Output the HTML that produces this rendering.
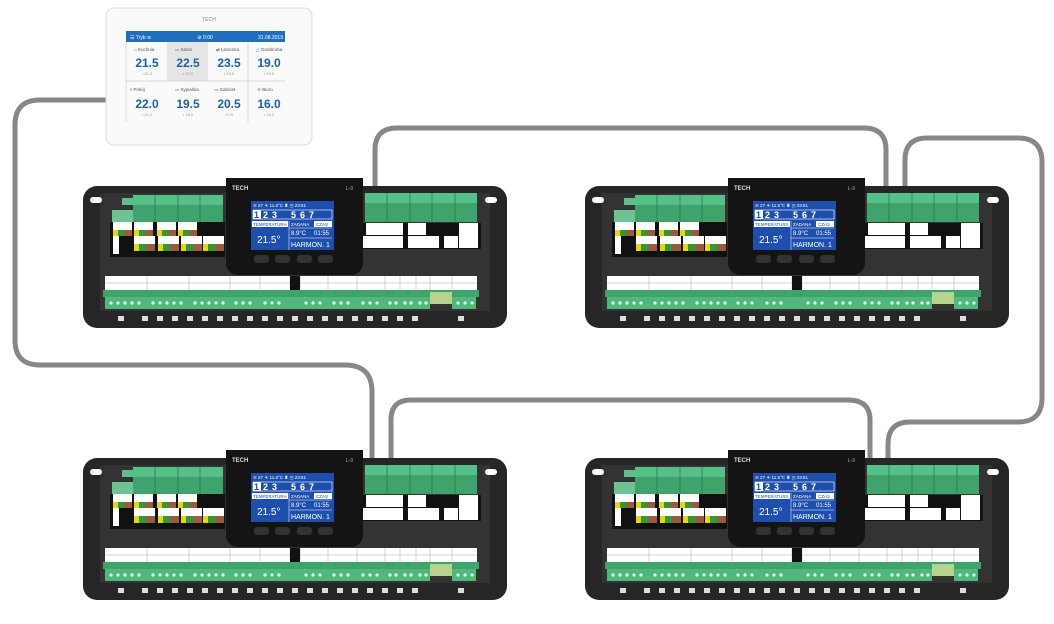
<!DOCTYPE html>
<html><head><meta charset="utf-8"><style>
html,body{margin:0;padding:0;background:#fff;}
svg{display:block;font-family:"Liberation Sans",sans-serif;}
</style></head><body>
<svg width="1054" height="624" viewBox="0 0 1054 624" xmlns="http://www.w3.org/2000/svg">
<defs>
<g id="cs">
<rect x="3" y="11" width="424" height="142" rx="14" fill="#262626"/>
<rect x="20" y="18" width="390" height="118" fill="#333"/>
<rect x="10" y="22" width="12" height="6" rx="3" fill="#fff"/>
<rect x="405" y="22" width="12" height="6" rx="3" fill="#fff"/>
<rect x="42" y="23" width="12" height="7" fill="#5fbf86"/>
<rect x="32" y="35" width="22" height="12" fill="#6cc494"/>
<rect x="53" y="20" width="90" height="10" fill="#55c088"/>
<rect x="53" y="30" width="90" height="17" fill="#3ea46c"/>
<g stroke="#2b7a50" stroke-width="0.8"><line x1="75" y1="20" x2="75" y2="47"/><line x1="98" y1="20" x2="98" y2="47"/><line x1="120" y1="20" x2="120" y2="47"/></g>
<rect x="30" y="47" width="115" height="35" fill="#111"/>
<g fill="#fff"><rect x="33" y="47" width="19" height="8"/><rect x="54" y="47" width="19" height="8"/><rect x="77" y="47" width="19" height="8"/><rect x="98" y="47" width="19" height="8"/>
<rect x="54" y="61" width="21" height="8"/><rect x="78" y="61" width="21" height="8"/><rect x="101" y="61" width="21" height="8"/><rect x="123" y="61" width="21" height="8"/>
<rect x="33" y="57" width="6" height="22"/></g>
<g><rect x="33" y="55" width="5" height="6" fill="#e8d800"/><rect x="38" y="55" width="6" height="6" fill="#2f9a3c"/><rect x="44" y="55" width="8" height="6" fill="#9a5a3c"/>
<rect x="54" y="55" width="5" height="6" fill="#e8d800"/><rect x="59" y="55" width="6" height="6" fill="#2f9a3c"/><rect x="65" y="55" width="8" height="6" fill="#9a5a3c"/>
<rect x="77" y="55" width="5" height="6" fill="#e8d800"/><rect x="82" y="55" width="6" height="6" fill="#2f9a3c"/><rect x="88" y="55" width="8" height="6" fill="#9a5a3c"/>
<rect x="98" y="55" width="5" height="6" fill="#e8d800"/><rect x="103" y="55" width="6" height="6" fill="#2f9a3c"/><rect x="109" y="55" width="8" height="6" fill="#9a5a3c"/>
<rect x="54" y="69" width="5" height="7" fill="#e8d800"/><rect x="59" y="69" width="7" height="7" fill="#2f9a3c"/><rect x="66" y="69" width="9" height="7" fill="#9a5a3c"/>
<rect x="78" y="69" width="5" height="7" fill="#e8d800"/><rect x="83" y="69" width="7" height="7" fill="#2f9a3c"/><rect x="90" y="69" width="9" height="7" fill="#9a5a3c"/>
<rect x="101" y="69" width="5" height="7" fill="#e8d800"/><rect x="106" y="69" width="7" height="7" fill="#2f9a3c"/><rect x="113" y="69" width="9" height="7" fill="#9a5a3c"/>
<rect x="123" y="69" width="5" height="7" fill="#e8d800"/><rect x="128" y="69" width="7" height="7" fill="#2f9a3c"/><rect x="135" y="69" width="9" height="7" fill="#9a5a3c"/></g>
<rect x="285" y="18" width="112" height="10" fill="#55c088"/>
<rect x="285" y="28" width="112" height="19" fill="#3ea46c"/>
<g stroke="#2b7a50" stroke-width="0.8"><line x1="307" y1="18" x2="307" y2="47"/><line x1="330" y1="18" x2="330" y2="47"/><line x1="352" y1="18" x2="352" y2="47"/><line x1="375" y1="18" x2="375" y2="47"/></g>
<rect x="283" y="48" width="118" height="26" fill="#111"/>
<g fill="#fff"><rect x="286" y="48" width="37" height="12"/><rect x="328" y="48" width="18" height="12"/><rect x="379" y="48" width="19" height="25"/>
<rect x="280" y="61" width="43" height="12"/><rect x="328" y="61" width="31" height="12"/><rect x="364" y="61" width="14" height="12"/></g>
<rect x="146" y="3" width="137" height="97" rx="12" fill="#141414"/>
<rect x="146" y="3" width="137" height="20" fill="#141414"/>
<rect x="171" y="26" width="83" height="49" fill="#1f4fae"/>
<rect x="173" y="35" width="8" height="9" fill="#fff"/>
<rect x="173" y="35" width="79" height="9" fill="none" stroke="#fff" stroke-width="0.6"/>
<rect x="172" y="46" width="36" height="6" fill="#fff"/><rect x="234" y="46" width="18" height="6" fill="#fff"/>
<line x1="209" y1="53" x2="252" y2="53" stroke="#fff" stroke-width="0.5"/><line x1="209" y1="63" x2="252" y2="63" stroke="#fff" stroke-width="0.5"/><line x1="209" y1="46" x2="209" y2="75" stroke="#fff" stroke-width="0.5"/>
<g fill="#333"><rect x="174" y="80" width="15" height="8" rx="3"/><rect x="195" y="80" width="15" height="8" rx="3"/><rect x="217" y="80" width="15" height="8" rx="3"/><rect x="238" y="80" width="15" height="8" rx="3"/></g>
<rect x="25" y="101" width="372" height="14" fill="#fff"/>
<g stroke="#aaa" stroke-width="0.5"><line x1="67" y1="101" x2="67" y2="115"/><line x1="109" y1="101" x2="109" y2="115"/><line x1="150" y1="101" x2="150" y2="115"/><line x1="180" y1="101" x2="180" y2="115"/><line x1="210" y1="101" x2="210" y2="115"/><line x1="220" y1="101" x2="220" y2="115"/><line x1="248" y1="101" x2="248" y2="115"/><line x1="277" y1="101" x2="277" y2="115"/><line x1="305" y1="101" x2="305" y2="115"/><line x1="320" y1="101" x2="320" y2="115"/><line x1="336" y1="101" x2="336" y2="115"/><line x1="350" y1="101" x2="350" y2="115"/><line x1="372" y1="101" x2="372" y2="115"/><line x1="25" y1="108" x2="397" y2="108"/></g>
<rect x="210" y="101" width="10" height="22" fill="#111"/>
<rect x="23" y="115" width="376" height="7" fill="#3ea46c"/>
<rect x="25" y="122" width="325" height="12" fill="#4fb87c"/>
<rect x="350" y="117" width="22" height="12" fill="#b9d38f"/>
<rect x="372" y="122" width="24" height="12" fill="#4fb87c"/>
<g fill="#e8f5ec"><circle cx="31" cy="128" r="1.6"/><circle cx="38" cy="128" r="1.6"/><circle cx="45" cy="128" r="1.6"/><circle cx="52" cy="128" r="1.6"/><circle cx="59" cy="128" r="1.6"/><circle cx="73" cy="128" r="1.6"/><circle cx="80" cy="128" r="1.6"/><circle cx="87" cy="128" r="1.6"/><circle cx="94" cy="128" r="1.6"/><circle cx="101" cy="128" r="1.6"/><circle cx="115" cy="128" r="1.6"/><circle cx="122" cy="128" r="1.6"/><circle cx="129" cy="128" r="1.6"/><circle cx="136" cy="128" r="1.6"/><circle cx="143" cy="128" r="1.6"/><circle cx="156" cy="128" r="1.6"/><circle cx="163" cy="128" r="1.6"/><circle cx="170" cy="128" r="1.6"/><circle cx="185" cy="128" r="1.6"/><circle cx="192" cy="128" r="1.6"/><circle cx="199" cy="128" r="1.6"/><circle cx="226" cy="128" r="1.6"/><circle cx="233" cy="128" r="1.6"/><circle cx="240" cy="128" r="1.6"/><circle cx="254" cy="128" r="1.6"/><circle cx="261" cy="128" r="1.6"/><circle cx="268" cy="128" r="1.6"/><circle cx="283" cy="128" r="1.6"/><circle cx="290" cy="128" r="1.6"/><circle cx="297" cy="128" r="1.6"/><circle cx="310" cy="128" r="1.6"/><circle cx="316" cy="128" r="1.6"/><circle cx="325" cy="128" r="1.6"/><circle cx="331" cy="128" r="1.6"/><circle cx="340" cy="128" r="1.6"/><circle cx="346" cy="128" r="1.6"/><circle cx="378" cy="128" r="1.6"/><circle cx="385" cy="128" r="1.6"/><circle cx="392" cy="128" r="1.6"/></g>
<g fill="#ddd"><rect x="38" y="141" width="6" height="5"/><rect x="62" y="141" width="6" height="5"/><rect x="77" y="141" width="6" height="5"/><rect x="92" y="141" width="6" height="5"/><rect x="107" y="141" width="6" height="5"/><rect x="122" y="141" width="6" height="5"/><rect x="137" y="141" width="6" height="5"/><rect x="152" y="141" width="6" height="5"/><rect x="167" y="141" width="6" height="5"/><rect x="182" y="141" width="6" height="5"/><rect x="197" y="141" width="6" height="5"/><rect x="212" y="141" width="6" height="5"/><rect x="227" y="141" width="6" height="5"/><rect x="242" y="141" width="6" height="5"/><rect x="257" y="141" width="6" height="5"/><rect x="272" y="141" width="6" height="5"/><rect x="287" y="141" width="6" height="5"/><rect x="302" y="141" width="6" height="5"/><rect x="317" y="141" width="6" height="5"/><rect x="332" y="141" width="6" height="5"/><rect x="378" y="141" width="6" height="5"/></g>
</g>
</defs>

<!-- cables -->
<g fill="none" stroke="#878787" stroke-width="5" stroke-linejoin="round">
<path d="M106,100 H40 Q15,100 15,125 V340 Q15,365 40,365 H345 Q372,365 372,392 V458"/>
<path d="M375,188 V150 Q375,128 397,128 H864 Q886,128 886,150 V188"/>
<path d="M905,188 V160 Q905,138 927,138 H1018 Q1042,138 1042,162 V398 Q1042,422 1018,422 H910 Q888,422 888,444 V458"/>
<path d="M391,458 V420 Q391,400 411,400 H848 Q870,400 870,420 V458"/>
</g>

<!-- tablet -->
<g>
<rect x="106" y="8" width="206" height="137" rx="8" fill="#fafafa" stroke="#dcdcdc" stroke-width="1"/>
<text x="209" y="21" font-size="5" fill="#888" text-anchor="middle">TECH</text>
<rect x="126" y="31" width="159" height="11" fill="#1e6fbd"/>
<text x="130" y="39" font-size="5" fill="#fff">☰  Tryb       ≋</text>
<text x="205" y="39" font-size="5" fill="#fff" text-anchor="middle">⚙︎ 0:00</text>
<text x="283" y="39" font-size="5" fill="#fff" text-anchor="end">31.08.2019</text>
<rect x="167" y="42" width="41" height="39" fill="#e5e5e5"/>
<line x1="126" y1="81" x2="285" y2="81" stroke="#ccc" stroke-width="0.7"/>
<line x1="126" y1="42" x2="126" y2="122" stroke="#ccc" stroke-width="0.7"/>
<line x1="248" y1="42" x2="248" y2="122" stroke="#ccc" stroke-width="0.7"/>
<g font-size="4.5" fill="#555">
<text x="134" y="51">⌂ Kuchnia</text><text x="175" y="51">▭ Salon</text><text x="216" y="51">⇄ Łazienka</text><text x="256" y="51">△ Garderoba</text>
<text x="130" y="91">◊ Pokój</text><text x="175" y="91">▭ Sypialnia</text><text x="214" y="91">▭ Gabinet</text><text x="257" y="91">♔ Biuro</text>
</g>
<g font-size="12" font-weight="bold" fill="#1d5fa8" text-anchor="middle">
<text x="147" y="67">21.5</text><text x="188" y="67">22.5</text><text x="229" y="67">23.5</text><text x="269" y="67">19.0</text>
<text x="147" y="108">22.0</text><text x="188" y="108">19.5</text><text x="229" y="108">20.5</text><text x="269" y="108">16.0</text>
</g>
<g font-size="4" fill="#999" text-anchor="middle">
<text x="147" y="75">• 21.0</text><text x="188" y="75">• 22.0</text><text x="229" y="75">• 23.0</text><text x="269" y="75">• 19.0</text>
<text x="147" y="116">• 21.0</text><text x="188" y="116">• 19.0</text><text x="229" y="116">20.5</text><text x="269" y="116">• 16.0</text>
</g>
</g>

<!-- controller 1 -->
<g transform="translate(80,175)">
<use href="#cs"/>
<text x="152" y="15" font-size="6" font-weight="bold" fill="#ddd">TECH</text>
<text x="273" y="15" font-size="5" fill="#aaa" text-anchor="end">L-9</text>
<text x="173" y="32" font-size="4.5" fill="#fff">≋ 27  ☀ 11.5°C   ♜      ◷ 23:51</text>
<g font-size="9" fill="#fff" font-weight="bold"><text x="174" y="43" fill="#1f4fae">1</text><text x="183" y="43">2</text><text x="192" y="43">3</text><text x="211" y="43">5</text><text x="220" y="43">6</text><text x="229" y="43">7</text></g>
<text x="173" y="51" font-size="4.5" fill="#1f4fae">TEMPERATURA</text><text x="211" y="51" font-size="4.5" fill="#fff">ZADANA</text><text x="236" y="51" font-size="4.5" fill="#1f4fae">CZAS</text>
<text x="177" y="68" font-size="10" fill="#fff">21.5°</text>
<text x="211" y="60" font-size="6" fill="#fff">8.9°C</text><text x="234" y="60" font-size="6" fill="#fff">01:55</text>
<text x="211" y="72" font-size="7" fill="#fff">HARMON. 1</text>
</g>
<!-- controller 2 -->
<g transform="translate(582,175)">
<use href="#cs"/>
<text x="152" y="15" font-size="6" font-weight="bold" fill="#ddd">TECH</text>
<text x="273" y="15" font-size="5" fill="#aaa" text-anchor="end">L-9</text>
<text x="173" y="32" font-size="4.5" fill="#fff">≋ 27  ☀ 11.5°C   ♜      ◷ 23:51</text>
<g font-size="9" fill="#fff" font-weight="bold"><text x="174" y="43" fill="#1f4fae">1</text><text x="183" y="43">2</text><text x="192" y="43">3</text><text x="211" y="43">5</text><text x="220" y="43">6</text><text x="229" y="43">7</text></g>
<text x="173" y="51" font-size="4.5" fill="#1f4fae">TEMPERATURA</text><text x="211" y="51" font-size="4.5" fill="#fff">ZADANA</text><text x="236" y="51" font-size="4.5" fill="#1f4fae">CZAS</text>
<text x="177" y="68" font-size="10" fill="#fff">21.5°</text>
<text x="211" y="60" font-size="6" fill="#fff">8.9°C</text><text x="234" y="60" font-size="6" fill="#fff">01:55</text>
<text x="211" y="72" font-size="7" fill="#fff">HARMON. 1</text>
</g>
<!-- controller 3 -->
<g transform="translate(80,447)">
<use href="#cs"/>
<text x="152" y="15" font-size="6" font-weight="bold" fill="#ddd">TECH</text>
<text x="273" y="15" font-size="5" fill="#aaa" text-anchor="end">L-9</text>
<text x="173" y="32" font-size="4.5" fill="#fff">≋ 27  ☀ 11.5°C   ♜      ◷ 23:51</text>
<g font-size="9" fill="#fff" font-weight="bold"><text x="174" y="43" fill="#1f4fae">1</text><text x="183" y="43">2</text><text x="192" y="43">3</text><text x="211" y="43">5</text><text x="220" y="43">6</text><text x="229" y="43">7</text></g>
<text x="173" y="51" font-size="4.5" fill="#1f4fae">TEMPERATURA</text><text x="211" y="51" font-size="4.5" fill="#fff">ZADANA</text><text x="236" y="51" font-size="4.5" fill="#1f4fae">CZAS</text>
<text x="177" y="68" font-size="10" fill="#fff">21.5°</text>
<text x="211" y="60" font-size="6" fill="#fff">8.9°C</text><text x="234" y="60" font-size="6" fill="#fff">01:55</text>
<text x="211" y="72" font-size="7" fill="#fff">HARMON. 1</text>
</g>
<!-- controller 4 -->
<g transform="translate(582,447)">
<use href="#cs"/>
<text x="152" y="15" font-size="6" font-weight="bold" fill="#ddd">TECH</text>
<text x="273" y="15" font-size="5" fill="#aaa" text-anchor="end">L-9</text>
<text x="173" y="32" font-size="4.5" fill="#fff">≋ 27  ☀ 11.5°C   ♜      ◷ 23:51</text>
<g font-size="9" fill="#fff" font-weight="bold"><text x="174" y="43" fill="#1f4fae">1</text><text x="183" y="43">2</text><text x="192" y="43">3</text><text x="211" y="43">5</text><text x="220" y="43">6</text><text x="229" y="43">7</text></g>
<text x="173" y="51" font-size="4.5" fill="#1f4fae">TEMPERATURA</text><text x="211" y="51" font-size="4.5" fill="#fff">ZADANA</text><text x="236" y="51" font-size="4.5" fill="#1f4fae">CZAS</text>
<text x="177" y="68" font-size="10" fill="#fff">21.5°</text>
<text x="211" y="60" font-size="6" fill="#fff">8.9°C</text><text x="234" y="60" font-size="6" fill="#fff">01:55</text>
<text x="211" y="72" font-size="7" fill="#fff">HARMON. 1</text>
</g>
</svg>
</body></html>
